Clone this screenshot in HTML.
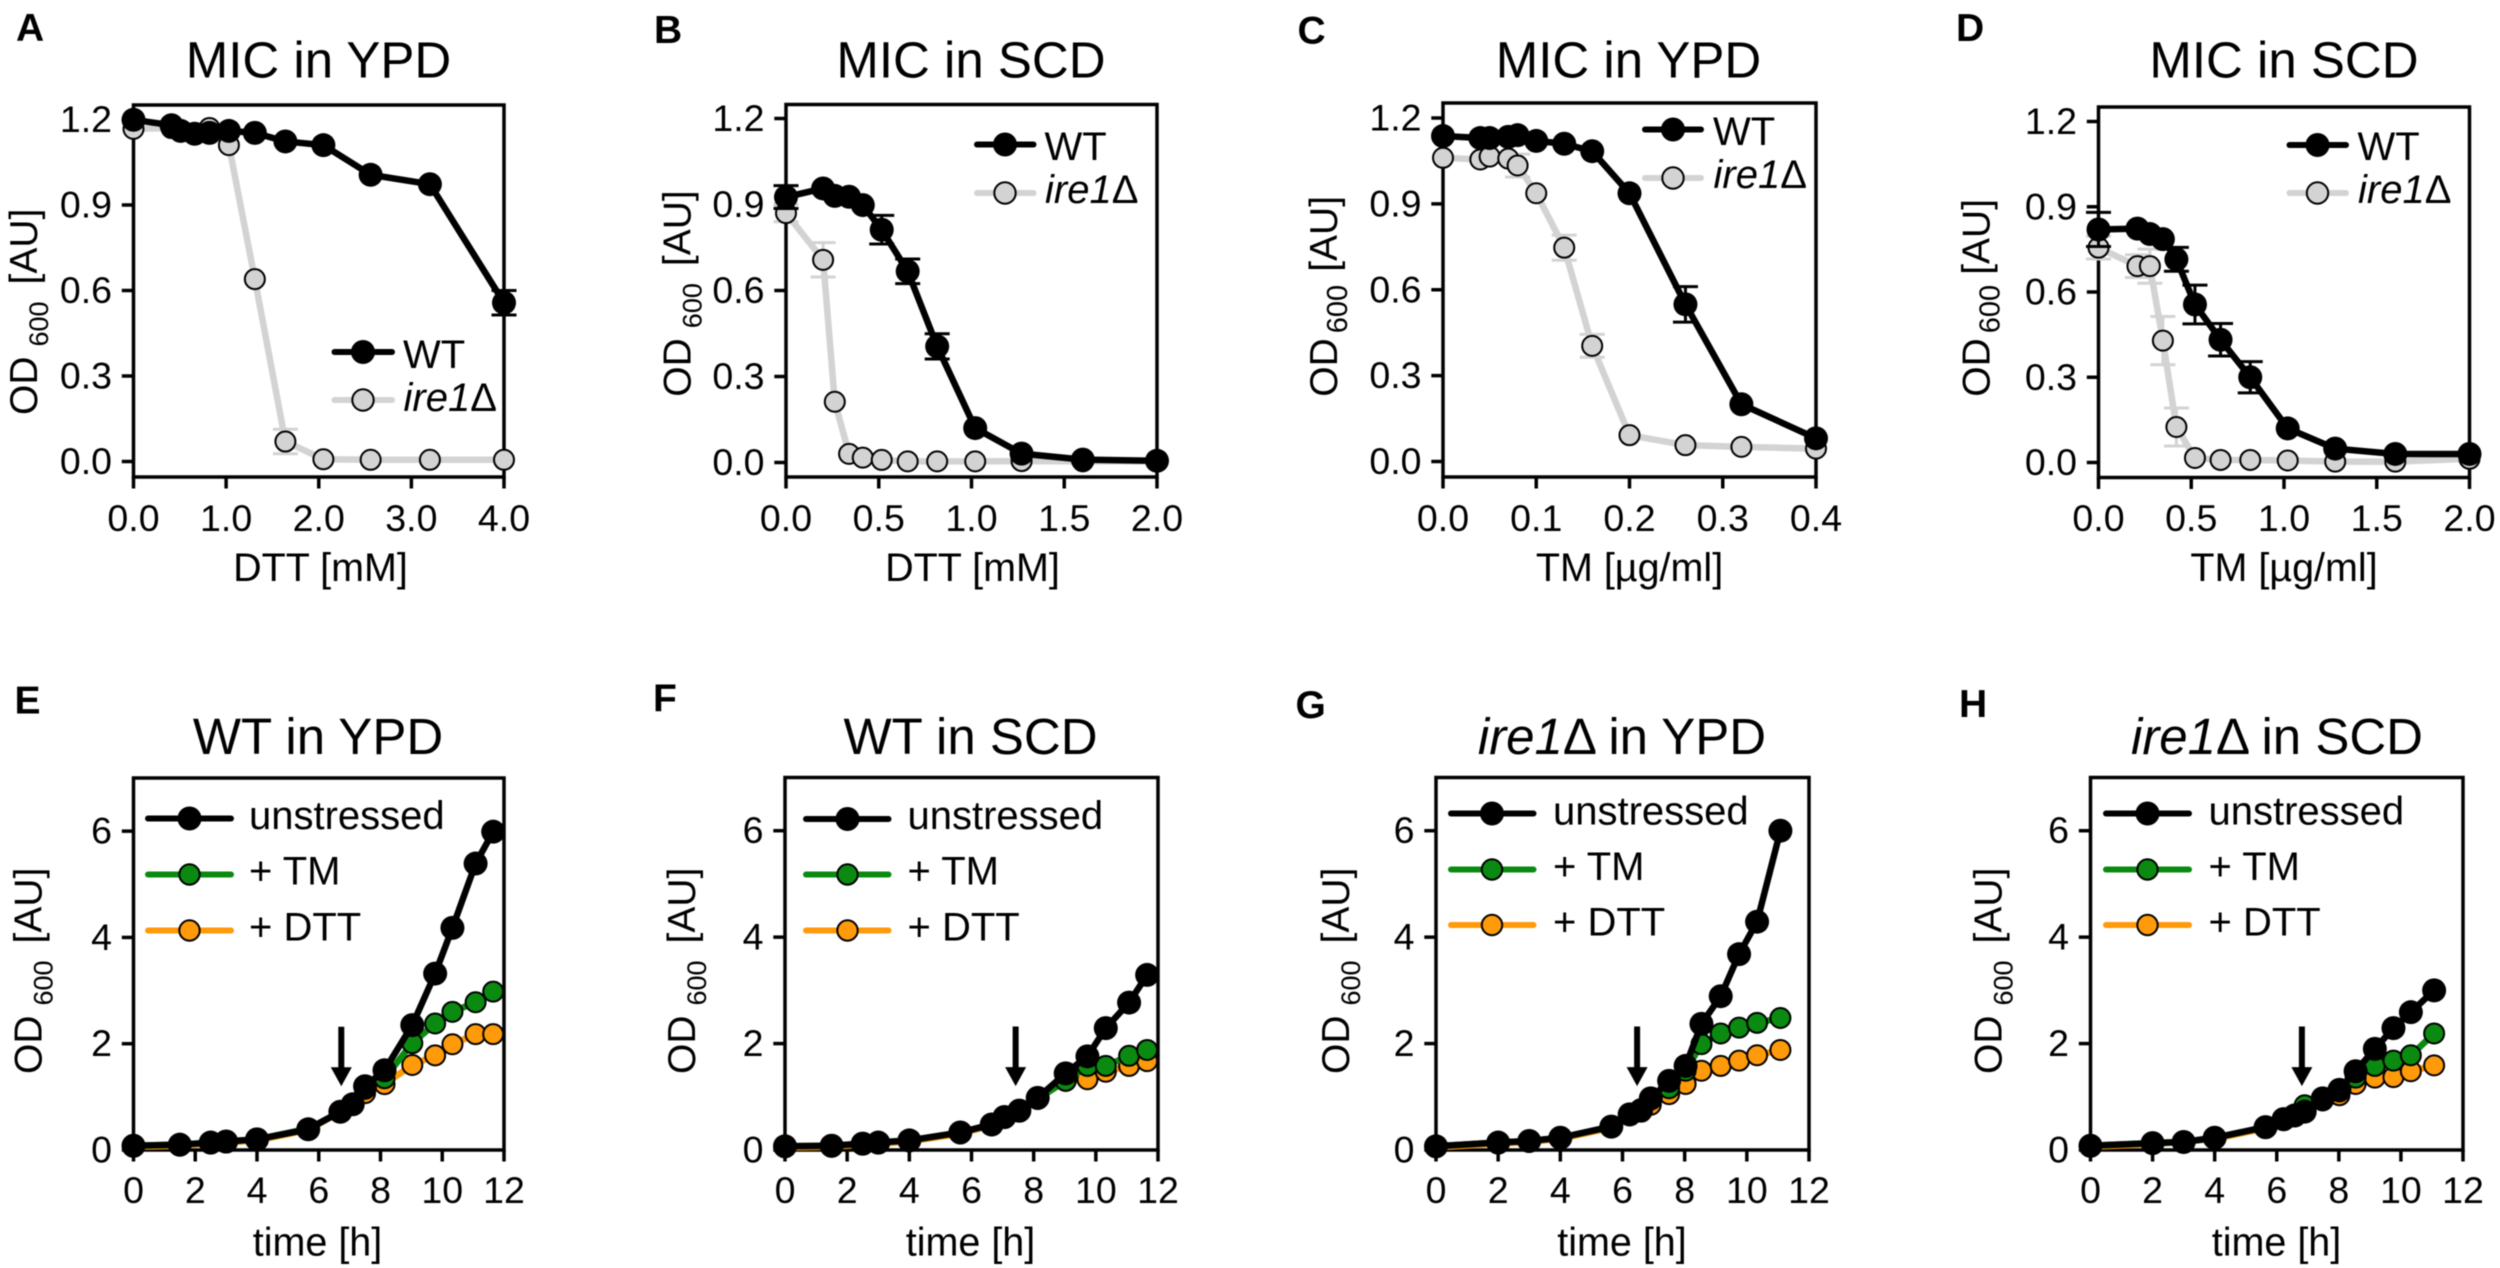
<!DOCTYPE html>
<html lang="en">
<head>
<meta charset="utf-8">
<title>MIC and growth curves</title>
<style>
html,body{margin:0;padding:0;background:#fff;}
svg{display:block;filter:blur(.45px);}
text{font-family:"Liberation Sans",Arial,sans-serif;fill:#000;}
.title{font-size:51px;text-anchor:middle;}
.letter{font-size:39px;font-weight:bold;}
.axt{font-size:39.5px;}
.ayt{font-size:39px;}
.mid{text-anchor:middle;}
.tick{font-size:37.5px;}
.leg{font-size:40px;}
.sub{font-size:27px;}
.sub2{font-size:29px;}
</style>
</head>
<body>
<svg id="figure" width="2500" height="1268" viewBox="0 0 2500 1268" xmlns="http://www.w3.org/2000/svg">
<rect width="2500" height="1268" fill="#fff"/>

<!-- PANEL A -->
<g id="panel-a">
<text class="letter" x="16" y="41">A</text>
<text class="title" x="318.5" y="77.5">MIC in YPD</text>
<text class="axt mid" x="320.5" y="581">DTT [mM]</text>
<text class="ayt" transform="translate(37,415) rotate(-90)">OD<tspan class="sub" dx="10" dy="11">600</tspan><tspan dx="17" dy="-11">[AU]</tspan></text>
<g>
<line x1="334.5" x2="392" y1="352" y2="352" stroke="#000" stroke-width="6" stroke-linecap="round"/>
<circle cx="363" cy="352" r="12" fill="#000"/>
<text class="leg" x="403" y="368">WT</text>
<line x1="334.5" x2="392" y1="400" y2="400" stroke="#d3d3d3" stroke-width="6" stroke-linecap="round"/>
<circle cx="363" cy="400" r="10.7" fill="#d3d3d3" stroke="#000" stroke-width="2"/>
<text class="leg" x="403.5" y="411"><tspan font-style="italic">ire1</tspan>Δ</text>
</g>
</g>

<!-- PANEL B -->
<g id="panel-b">
<text class="letter" x="654" y="43">B</text>
<text class="title" x="971" y="77.5">MIC in SCD</text>
<text class="axt mid" x="972.5" y="581">DTT [mM]</text>
<text class="ayt" transform="translate(690.5,396.7) rotate(-90)">OD<tspan class="sub" dx="10" dy="11">600</tspan><tspan dx="17" dy="-11">[AU]</tspan></text>
<g>
<line x1="977" x2="1033.5" y1="144.5" y2="144.5" stroke="#000" stroke-width="6" stroke-linecap="round"/>
<circle cx="1005" cy="144.5" r="12" fill="#000"/>
<text class="leg" x="1044.5" y="160">WT</text>
<line x1="977" x2="1033.5" y1="193" y2="193" stroke="#d3d3d3" stroke-width="6" stroke-linecap="round"/>
<circle cx="1005" cy="193" r="10.7" fill="#d3d3d3" stroke="#000" stroke-width="2"/>
<text class="leg" x="1045" y="203"><tspan font-style="italic">ire1</tspan>Δ</text>
</g>
</g>

<!-- PANEL C -->
<g id="panel-c">
<text class="letter" x="1297.5" y="43.5">C</text>
<text class="title" x="1628.5" y="77.5">MIC in YPD</text>
<text class="axt mid" x="1629.5" y="581">TM [µg/ml]</text>
<text class="ayt" transform="translate(1337,396.7) rotate(-90)">OD<tspan class="sub2" dx="5" dy="10">600</tspan><tspan dx="13" dy="-10">[AU]</tspan></text>
<g>
<line x1="1645" x2="1701" y1="129.5" y2="129.5" stroke="#000" stroke-width="6" stroke-linecap="round"/>
<circle cx="1673" cy="129.5" r="12" fill="#000"/>
<text class="leg" x="1713" y="145">WT</text>
<line x1="1645" x2="1701" y1="178" y2="178" stroke="#d3d3d3" stroke-width="6" stroke-linecap="round"/>
<circle cx="1673" cy="178" r="10.7" fill="#d3d3d3" stroke="#000" stroke-width="2"/>
<text class="leg" x="1713.5" y="188"><tspan font-style="italic">ire1</tspan>Δ</text>
</g>
</g>

<!-- PANEL D -->
<g id="panel-d">
<text class="letter" x="1956" y="41">D</text>
<text class="title" x="2284" y="77.5">MIC in SCD</text>
<text class="axt mid" x="2284" y="581">TM [µg/ml]</text>
<text class="ayt" transform="translate(1989.7,396.7) rotate(-90)">OD<tspan class="sub2" dx="5" dy="10">600</tspan><tspan dx="10" dy="-10">[AU]</tspan></text>
<g>
<line x1="2289.5" x2="2346" y1="145" y2="145" stroke="#000" stroke-width="6" stroke-linecap="round"/>
<circle cx="2317.5" cy="145" r="12" fill="#000"/>
<text class="leg" x="2357.5" y="160">WT</text>
<line x1="2289.5" x2="2346" y1="193" y2="193" stroke="#d3d3d3" stroke-width="6" stroke-linecap="round"/>
<circle cx="2317.5" cy="193" r="10.7" fill="#d3d3d3" stroke="#000" stroke-width="2"/>
<text class="leg" x="2358" y="203"><tspan font-style="italic">ire1</tspan>Δ</text>
</g>
</g>

<!-- PANEL E -->
<g id="panel-e">
<text class="letter" x="14.5" y="713.5">E</text>
<text class="title" x="318" y="754">WT in YPD</text>
<text class="axt mid" x="317.5" y="1255.5">time [h]</text>
<text class="ayt" transform="translate(41.4,1074) rotate(-90)">OD<tspan class="sub" dx="10" dy="11">600</tspan><tspan dx="17" dy="-11">[AU]</tspan></text>
<g>
<line x1="148" x2="231" y1="818.5" y2="818.5" stroke="#000" stroke-width="6" stroke-linecap="round"/>
<circle cx="189.5" cy="818.5" r="12" fill="#000"/>
<text class="leg" x="249" y="829">unstressed</text>
<line x1="148" x2="231" y1="874.5" y2="874.5" stroke="#0a8a10" stroke-width="6" stroke-linecap="round"/>
<circle cx="189.5" cy="874.5" r="10.2" fill="#0a8a10" stroke="#000" stroke-width="2"/>
<text class="leg" x="249" y="884.5">+ TM</text>
<line x1="148" x2="231" y1="930.5" y2="930.5" stroke="#ff9a0a" stroke-width="6" stroke-linecap="round"/>
<circle cx="189.5" cy="930.5" r="10.2" fill="#ff9a0a" stroke="#000" stroke-width="2"/>
<text class="leg" x="249" y="940.5">+ DTT</text>
</g>
</g>

<!-- PANEL F -->
<g id="panel-f">
<text class="letter" x="653" y="711.5">F</text>
<text class="title" x="970.5" y="754">WT in SCD</text>
<text class="axt mid" x="970.5" y="1255.5">time [h]</text>
<text class="ayt" transform="translate(695,1074) rotate(-90)">OD<tspan class="sub" dx="10" dy="11">600</tspan><tspan dx="17" dy="-11">[AU]</tspan></text>
<g>
<line x1="806" x2="888.5" y1="819" y2="819" stroke="#000" stroke-width="6" stroke-linecap="round"/>
<circle cx="847.5" cy="819" r="12" fill="#000"/>
<text class="leg" x="907.5" y="829">unstressed</text>
<line x1="806" x2="888.5" y1="874.5" y2="874.5" stroke="#0a8a10" stroke-width="6" stroke-linecap="round"/>
<circle cx="847.5" cy="874.5" r="10.2" fill="#0a8a10" stroke="#000" stroke-width="2"/>
<text class="leg" x="907.5" y="884.5">+ TM</text>
<line x1="806" x2="888.5" y1="930.5" y2="930.5" stroke="#ff9a0a" stroke-width="6" stroke-linecap="round"/>
<circle cx="847.5" cy="930.5" r="10.2" fill="#ff9a0a" stroke="#000" stroke-width="2"/>
<text class="leg" x="907.5" y="940.5">+ DTT</text>
</g>
</g>

<!-- PANEL G -->
<g id="panel-g">
<text class="letter" x="1295.5" y="718">G</text>
<text class="title" x="1622" y="754"><tspan font-style="italic">ire1</tspan>Δ in YPD</text>
<text class="axt mid" x="1622" y="1255.5">time [h]</text>
<text class="ayt" transform="translate(1348.8,1074) rotate(-90)">OD<tspan class="sub" dx="10" dy="11">600</tspan><tspan dx="17" dy="-11">[AU]</tspan></text>
<g>
<line x1="1451" x2="1533.5" y1="813.5" y2="813.5" stroke="#000" stroke-width="6" stroke-linecap="round"/>
<circle cx="1492" cy="813.5" r="12" fill="#000"/>
<text class="leg" x="1553" y="824.5">unstressed</text>
<line x1="1451" x2="1533.5" y1="869.5" y2="869.5" stroke="#0a8a10" stroke-width="6" stroke-linecap="round"/>
<circle cx="1492" cy="869.5" r="10.2" fill="#0a8a10" stroke="#000" stroke-width="2"/>
<text class="leg" x="1553" y="880">+ TM</text>
<line x1="1451" x2="1533.5" y1="925" y2="925" stroke="#ff9a0a" stroke-width="6" stroke-linecap="round"/>
<circle cx="1492" cy="925" r="10.2" fill="#ff9a0a" stroke="#000" stroke-width="2"/>
<text class="leg" x="1553" y="935.5">+ DTT</text>
</g>
</g>

<!-- PANEL H -->
<g id="panel-h">
<text class="letter" x="1959" y="717">H</text>
<text class="title" x="2277" y="754"><tspan font-style="italic">ire1</tspan>Δ in SCD</text>
<text class="axt mid" x="2276.5" y="1255.5">time [h]</text>
<text class="ayt" transform="translate(2001.6,1074) rotate(-90)">OD<tspan class="sub" dx="10" dy="11">600</tspan><tspan dx="17" dy="-11">[AU]</tspan></text>
<g>
<line x1="2106" x2="2189" y1="813.5" y2="813.5" stroke="#000" stroke-width="6" stroke-linecap="round"/>
<circle cx="2147.5" cy="813.5" r="12" fill="#000"/>
<text class="leg" x="2208.5" y="824.5">unstressed</text>
<line x1="2106" x2="2189" y1="869.5" y2="869.5" stroke="#0a8a10" stroke-width="6" stroke-linecap="round"/>
<circle cx="2147.5" cy="869.5" r="10.2" fill="#0a8a10" stroke="#000" stroke-width="2"/>
<text class="leg" x="2208.5" y="880">+ TM</text>
<line x1="2106" x2="2189" y1="925" y2="925" stroke="#ff9a0a" stroke-width="6" stroke-linecap="round"/>
<circle cx="2147.5" cy="925" r="10.2" fill="#ff9a0a" stroke="#000" stroke-width="2"/>
<text class="leg" x="2208.5" y="935.5">+ DTT</text>
</g>
</g>
</svg>

<script>
// ---------- tick values and labels ----------
const micYTicks = [0, 0.3, 0.6, 0.9, 1.2];
const micYTickLabels = ['0.0', '0.3', '0.6', '0.9', '1.2'];
const growthYTicks = [0, 2, 4, 6];
const growthYTickLabels = ['0', '2', '4', '6'];
const growthXTicks = [0, 2, 4, 6, 8, 10, 12];
const growthXTickLabels = ['0', '2', '4', '6', '8', '10', '12'];
const aXTicks = [0, 1, 2, 3, 4];
const aXTickLabels = ['0.0', '1.0', '2.0', '3.0', '4.0'];
const halfXTicks = [0, 0.5, 1, 1.5, 2];
const halfXTickLabels = ['0.0', '0.5', '1.0', '1.5', '2.0'];
const cXTicks = [0, 0.1, 0.2, 0.3, 0.4];
const cXTickLabels = ['0.0', '0.1', '0.2', '0.3', '0.4'];

// ---------- panel A ----------
const aDose = [0, 0.41, 0.51, 0.66, 0.82, 1.03, 1.31, 1.64, 2.05, 2.56, 3.2, 4];
const aWT = [1.199, 1.18, 1.16, 1.15, 1.153, 1.16, 1.153, 1.123, 1.11, 1.006, 0.973, 0.557];
const aWTErr = [0, 0, 0, 0, 0, 0, 0, 0, 0, 0, 0, 0.043];
const aIre = [1.167, 1.17, 1.16, 1.15, 1.17, 1.11, 0.64, 0.07, 0.008, 0.006, 0.006, 0.006];
const aIreErr = [0, 0, 0, 0, 0, 0, 0, 0.043, 0, 0, 0, 0];

// ---------- panel B ----------
const bDose = [0, 0.2, 0.263, 0.34, 0.414, 0.516, 0.656, 0.815, 1.02, 1.27, 1.6, 2];
const bWT = [0.926, 0.956, 0.93, 0.927, 0.898, 0.812, 0.667, 0.405, 0.12, 0.031, 0.01, 0.006];
const bWTErr = [0.04, 0, 0, 0, 0, 0.05, 0.043, 0.044, 0, 0, 0, 0];
const bIre = [0.87, 0.707, 0.212, 0.03, 0.017, 0.009, 0.004, 0.004, 0.004, 0.005, 0.004, 0.004];
const bIreErr = [0.03, 0.06, 0, 0, 0, 0, 0, 0, 0, 0, 0, 0];

// ---------- panel C ----------
const cDose = [0, 0.04, 0.05, 0.07, 0.08, 0.1, 0.13, 0.16, 0.2, 0.26, 0.32, 0.4];
const cWT = [1.137, 1.13, 1.13, 1.134, 1.14, 1.12, 1.11, 1.084, 0.937, 0.549, 0.2, 0.081];
const cWTErr = [0, 0, 0, 0, 0, 0, 0, 0, 0, 0.062, 0, 0];
const cIre = [1.061, 1.055, 1.065, 1.058, 1.034, 0.937, 0.747, 0.404, 0.092, 0.057, 0.051, 0.045];
const cIreErr = [0, 0, 0, 0, 0.04, 0, 0.044, 0.04, 0, 0, 0, 0];

// ---------- panel D ----------
const dDose = [0, 0.21, 0.277, 0.347, 0.42, 0.52, 0.658, 0.818, 1.02, 1.276, 1.6, 2];
const dWT = [0.82, 0.823, 0.804, 0.786, 0.715, 0.556, 0.432, 0.3, 0.12, 0.049, 0.03, 0.03];
const dWTErr = [0.06, 0, 0, 0, 0.042, 0.068, 0.057, 0.055, 0, 0, 0, 0];
const dIre = [0.756, 0.691, 0.691, 0.429, 0.125, 0.016, 0.009, 0.009, 0.007, 0.003, 0.003, 0.013];
const dIreErr = [0.04, 0.04, 0.06, 0.085, 0.067, 0, 0, 0, 0, 0, 0, 0];

// ---------- panel E ----------
const eTime = [0, 1.5, 2.5, 3, 4, 5.66, 6.7, 7.1, 7.5, 8.13, 9.03, 9.77, 10.33, 11.08, 11.65];
const eUnstressed = [0.08, 0.1, 0.14, 0.16, 0.2, 0.39, 0.72, 0.86, 1.2, 1.5, 2.35, 3.32, 4.18, 5.39, 5.99];
const eTM = [0.08, 0.1, 0.14, 0.16, 0.2, 0.4, 0.72, 0.85, 1.15, 1.35, 2.01, 2.38, 2.6, 2.78, 2.98];
const eDTT = [0.06, 0.08, 0.12, 0.14, 0.18, 0.38, 0.72, 0.85, 1.07, 1.24, 1.6, 1.78, 1.99, 2.18, 2.18];
const eArrow = 6.73;

// ---------- panel F ----------
const fTime = [0, 1.5, 2.5, 3, 4, 5.64, 6.65, 7.06, 7.54, 8.13, 9.03, 9.73, 10.32, 11.07, 11.65];
const fUnstressed = [0.07, 0.08, 0.12, 0.14, 0.18, 0.33, 0.48, 0.62, 0.74, 0.98, 1.44, 1.76, 2.29, 2.77, 3.29];
const fTM = [0.07, 0.08, 0.12, 0.14, 0.18, 0.33, 0.48, 0.62, 0.74, 0.96, 1.3, 1.58, 1.58, 1.77, 1.88];
const fDTT = [0.05, 0.06, 0.1, 0.12, 0.16, 0.31, 0.46, 0.6, 0.72, 0.96, 1.3, 1.33, 1.47, 1.58, 1.67];
const fArrow = 7.42;

// ---------- panel G ----------
const gTime = [0, 2, 3, 4, 5.64, 6.23, 6.6, 6.91, 7.5, 8.03, 8.54, 9.16, 9.75, 10.33, 11.08];
const gUnstressed = [0.07, 0.14, 0.17, 0.23, 0.44, 0.67, 0.75, 0.97, 1.3, 1.58, 2.37, 2.89, 3.68, 4.29, 6];
const gTM = [0.07, 0.14, 0.17, 0.23, 0.44, 0.67, 0.75, 0.95, 1.16, 1.49, 1.99, 2.19, 2.3, 2.39, 2.48];
const gDTT = [0.05, 0.12, 0.15, 0.21, 0.42, 0.65, 0.72, 0.85, 1.05, 1.24, 1.49, 1.58, 1.68, 1.78, 1.88];
const gArrow = 6.47;

// ---------- panel H ----------
const hTime = [0, 2, 3, 4, 5.64, 6.22, 6.58, 6.9, 7.48, 8.02, 8.54, 9.16, 9.76, 10.32, 11.07];
const hUnstressed = [0.08, 0.13, 0.15, 0.23, 0.43, 0.58, 0.65, 0.72, 0.97, 1.13, 1.48, 1.9, 2.29, 2.59, 3];
const hTM = [0.08, 0.13, 0.15, 0.23, 0.43, 0.58, 0.65, 0.84, 0.95, 1.1, 1.36, 1.58, 1.68, 1.78, 2.19];
const hDTT = [0.06, 0.11, 0.16, 0.21, 0.41, 0.56, 0.63, 0.72, 0.93, 1.03, 1.24, 1.36, 1.37, 1.48, 1.59];
const hArrow = 6.81;

// arrow span on the growth value axis
const arrowTopValue = 2.32;
const arrowTipValue = 1.2;

// ---------- drawing ----------
const NS = 'http://www.w3.org/2000/svg';
const GREY = '#d3d3d3', GREEN = '#0a8a10', ORANGE = '#ff9a0a', BLACK = '#000';

function make(tag, attrs, parent) {
  const el = document.createElementNS(NS, tag);
  for (const k in attrs) el.setAttribute(k, attrs[k]);
  parent.appendChild(el);
  return el;
}
function linear(d0, d1, r0, r1) {
  return function (v) { return r0 + (v - d0) * (r1 - r0) / (d1 - d0); };
}
function drawAxes(g, box, xScale, yScale, xTicks, xLabels, yTicks, yLabels, tickBase) {
  const frame = make('rect', {x: box.left, y: box.top, width: box.right - box.left, height: box.bottom - box.top, fill: 'none', stroke: BLACK, 'stroke-width': 3.5}, g);
  
  
  xTicks.forEach(function (t, i) {
    const x = xScale(t);
    const tick = make('line', {x1: x, x2: x, y1: box.bottom, y2: box.bottom + 11.5, stroke: BLACK, 'stroke-width': 3.5}, g);
    
    
    const lab = make('text', {x: x, y: tickBase, 'class': 'tick mid'}, g);
    
    
    lab.textContent = xLabels[i];
  });
  yTicks.forEach(function (t, i) {
    const y = yScale(t);
    const tick = make('line', {x1: box.left - 11.7, x2: box.left, y1: y, y2: y, stroke: BLACK, 'stroke-width': 3.5}, g);
    
    
    const lab = make('text', {x: box.left - 21.5, y: y + 12.5, 'class': 'tick', 'text-anchor': 'end'}, g);
    
    
    lab.textContent = yLabels[i];
  });
}
function drawSeries(g, xs, ys, errs, xScale, yScale, color, isSolid, seriesName) {
  if (errs) {
    xs.forEach(function (x, i) {
      if (!errs[i]) return;
      const px = xScale(x), hi = yScale(ys[i] + errs[i]), lo = yScale(ys[i] - errs[i]);
      const bar = make('path', {d: 'M' + px + ' ' + hi + 'V' + lo + 'M' + (px - 12.5) + ' ' + hi + 'H' + (px + 12.5) + 'M' + (px - 12.5) + ' ' + lo + 'H' + (px + 12.5), fill: 'none', stroke: color, 'stroke-width': 3}, g);
      
      
    });
  }
  const pts = xs.map(function (x, i) { return xScale(x) + ',' + yScale(ys[i]); }).join(' ');
  const line = make('polyline', {points: pts, fill: 'none', stroke: color, 'stroke-width': 6.5, 'stroke-linejoin': 'round'}, g);
  
  
  xs.forEach(function (x, i) {
    const dot = make('circle', isSolid
      ? {cx: xScale(x), cy: yScale(ys[i]), r: 12, fill: color}
      : {cx: xScale(x), cy: yScale(ys[i]), r: 10, fill: color, stroke: BLACK, 'stroke-width': 2}, g);
    
    
  });
}
function drawArrow(g, t, xScale, yScale) {
  const x = xScale(t), top = yScale(arrowTopValue), tip = yScale(arrowTipValue);
  const shaft = make('line', {x1: x, x2: x, y1: top, y2: tip - 15, stroke: BLACK, 'stroke-width': 6}, g);
  
  
  const head = make('polygon', {points: (x - 10.5) + ',' + (tip - 19) + ' ' + (x + 10.5) + ',' + (tip - 19) + ' ' + x + ',' + tip, fill: BLACK}, g);
  
  
}
function micPanel(id, box, xMax, xTicks, xLabels, dose, wt, wtErr, ire, ireErr) {
  const g = document.getElementById(id);
  const xs = linear(0, xMax, box.left, box.right);
  const ys = linear(0, 1.2, box.y0, box.y12);
  drawAxes(g, box, xs, ys, xTicks, xLabels, micYTicks, micYTickLabels, 531);
  drawSeries(g, dose, ire, ireErr, xs, ys, GREY, false, 'ire1-delta');
  drawSeries(g, dose, wt, wtErr, xs, ys, BLACK, true, 'wt');
}
function growthPanel(id, box, time, un, tm, dtt, arrow) {
  const g = document.getElementById(id);
  const xs = linear(0, 12, box.left, box.right);
  const ys = linear(0, 7, box.bottom, box.top);
  drawAxes(g, box, xs, ys, growthXTicks, growthXTickLabels, growthYTicks, growthYTickLabels, 1203);
  drawSeries(g, time, dtt, null, xs, ys, ORANGE, false, 'dtt');
  drawSeries(g, time, tm, null, xs, ys, GREEN, false, 'tm');
  drawSeries(g, time, un, null, xs, ys, BLACK, true, 'unstressed');
  drawArrow(g, arrow, xs, ys);
}

micPanel('panel-a', {left: 133.5, right: 504, top: 105, bottom: 477, y0: 461.5, y12: 119.5}, 4, aXTicks, aXTickLabels, aDose, aWT, aWTErr, aIre, aIreErr);
micPanel('panel-b', {left: 786, right: 1157, top: 104.5, bottom: 477, y0: 462.5, y12: 118.5}, 2, halfXTicks, halfXTickLabels, bDose, bWT, bWTErr, bIre, bIreErr);
micPanel('panel-c', {left: 1443, right: 1816, top: 103, bottom: 477, y0: 461.5, y12: 118}, 0.4, cXTicks, cXTickLabels, cDose, cWT, cWTErr, cIre, cIreErr);
micPanel('panel-d', {left: 2098.5, right: 2469.5, top: 107, bottom: 477.5, y0: 462.5, y12: 121.5}, 2, halfXTicks, halfXTickLabels, dDose, dWT, dWTErr, dIre, dIreErr);
growthPanel('panel-e', {left: 133.5, right: 504, top: 778, bottom: 1150}, eTime, eUnstressed, eTM, eDTT, eArrow);
growthPanel('panel-f', {left: 785, right: 1158, top: 777.5, bottom: 1150}, fTime, fUnstressed, fTM, fDTT, fArrow);
growthPanel('panel-g', {left: 1436, right: 1809, top: 777.5, bottom: 1150}, gTime, gUnstressed, gTM, gDTT, gArrow);
growthPanel('panel-h', {left: 2090.5, right: 2463, top: 777.5, bottom: 1150}, hTime, hUnstressed, hTM, hDTT, hArrow);
</script>
</body>
</html>
